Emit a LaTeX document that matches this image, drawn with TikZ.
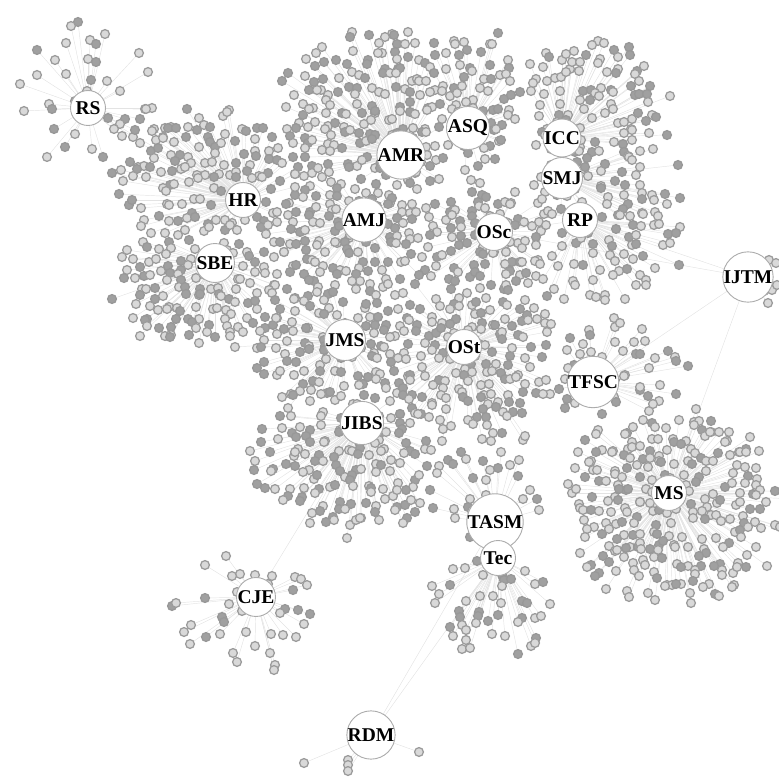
\documentclass[tikz,border=0pt]{standalone}
\usepackage{fontspec}
\setmainfont{Liberation Serif}
\pgfdeclarelayer{front}
\pgfsetlayers{main,front}
\definecolor{satlight}{HTML}{D9D9D9}
\definecolor{satlightb}{HTML}{9C9C9C}
\definecolor{satdark}{HTML}{A0A0A0}
\definecolor{satdarkb}{HTML}{989898}
\definecolor{edgec}{HTML}{E3E3E3}
\definecolor{hubb}{HTML}{ABABAB}
\tikzset{
  satl/.style={fill=satlight,draw=satlightb,line width=1.3pt},
  satd/.style={fill=satdark,draw=satdarkb,line width=1.3pt},
  edge/.style={draw=edgec,line width=0.45pt},
  hub/.style={circle,inner sep=0pt,minimum size=35pt,fill=white,draw=hubb,line width=0.9pt,
    font=\fontsize{19.5}{19.5}\selectfont\bfseries,text=black},
}
\newcount\xx \newcount\yy \newcount\dd \newcount\best \newcount\ax \newcount\ay
% \cl{hub}{cx}{cy}{Rx}{Ry}{density %}{dark %}
\def\cl#1#2#3#4#5#6#7{%
  \ax=\numexpr(\xx-#2)*500/#4\relax
  \ay=\numexpr(\yy-#3)*500/#5\relax
  \dd=\numexpr\ax*\ax/250+\ay*\ay/250\relax
  \ifnum\dd<\best\relax \best=\dd \def\besthub{#1}\def\bestdens{#6}\def\bestdark{#7}\fi}
\def\clusterlist{%
\cl{RS}{85}{100}{75}{70}{25}{30}%
\cl{HR}{210}{182}{95}{70}{74}{40}%
\cl{SBE}{205}{287}{90}{60}{74}{40}%
\cl{AMR}{375}{118}{92}{85}{80}{42}%
\cl{ASQ}{470}{98}{55}{68}{72}{38}%
\cl{ICC}{590}{105}{75}{70}{64}{32}%
\cl{SMJ}{610}{185}{75}{50}{64}{35}%
\cl{RP}{600}{250}{82}{55}{60}{35}%
\cl{AMJ}{345}{235}{85}{70}{82}{42}%
\cl{OSc}{490}{245}{70}{65}{78}{40}%
\cl{JMS}{320}{340}{85}{75}{78}{42}%
\cl{OSt}{470}{362}{90}{95}{74}{38}%
\cl{JIBS}{350}{460}{95}{70}{78}{45}%
\cl{TFSC}{615}{370}{75}{55}{38}{30}%
\cl{MS}{672}{505}{108}{95}{82}{25}%
\cl{TASM}{478}{485}{65}{50}{32}{35}%
\cl{Tec}{490}{605}{60}{55}{38}{35}%
\cl{CJE}{240}{610}{80}{60}{26}{15}%
}
\def\edgeact{\edef\tmp{\noexpand\draw[edge] (\besthub.center) -- (\px,\py);}\tmp}
\def\dotact{\ifnum\dk<\bestdark\relax
    \filldraw[satd] (\px,\py) circle[radius=4.4pt];
  \else
    \filldraw[satl] (\px,\py) circle[radius=4.4pt];
  \fi}
% satellites: jittered grid, each site belongs to the nearest cluster
\newcommand\sitepass[1]{%
\pgfmathsetseed{4242}%
\foreach \j in {0,...,82}{%
  \ifodd\j\relax\def\off{5}\else\def\off{0}\fi
  \foreach \i in {0,...,79}{%
    \pgfmathrandominteger{\jx}{-5}{5}%
    \pgfmathrandominteger{\jy}{-5}{5}%
    \xx=\numexpr\i*10+\off+\jx\relax
    \yy=\numexpr(\j*95)/10+\jy\relax
    \best=100000
    \clusterlist
    \pgfmathrandominteger{\fz}{700}{1300}%
    \ifnum\best<\fz\relax
      \pgfmathrandominteger{\rk}{0}{99}%
      \ifnum\rk<\bestdens\relax
        \pgfmathrandominteger{\dk}{0}{99}%
        \edef\px{\the\xx}\edef\py{\the\yy}%
        #1%
      \fi
    \fi
  }}}
\begin{document}
\begin{tikzpicture}[x=1pt,y=-1pt]
\useasboundingbox (0,0) rectangle (779,778);
\begin{pgfonlayer}{front}
\node[hub] (RS) at (88,108) {RS};
\node[hub] (HR) at (243,200) {HR};
\node[hub] (SBE) at (215,263) {SBE};
\node[hub] (AMR) at (401,155) {AMR};
\node[hub] (ASQ) at (468,128) {ASQ};
\node[hub] (ICC) at (562,138) {ICC};
\node[hub] (SMJ) at (562,178) {SMJ};
\node[hub] (AMJ) at (364,220) {AMJ};
\node[hub] (OSc) at (494,232) {OSc};
\node[hub] (RP) at (580,220) {RP};
\node[hub] (IJTM) at (748,277) {IJTM};
\node[hub] (JMS) at (345,340) {JMS};
\node[hub] (OSt) at (464,347) {OSt};
\node[hub] (TFSC) at (593,382) {TFSC};
\node[hub] (JIBS) at (362,423) {JIBS};
\node[hub] (MS) at (669,493) {MS};
\node[hub] (TASM) at (495,522) {TASM};
\node[hub] (Tec) at (498,558) {Tec};
\node[hub] (CJE) at (256,597) {CJE};
\node[hub] (RDM) at (371,735) {RDM};
\end{pgfonlayer}
\draw[edge] (RS) -- (HR);
\draw[edge] (CJE) -- (JIBS);
\draw[edge] (RDM) -- (Tec);
\draw[edge] (RDM) -- (TASM);
\draw[edge] (IJTM) -- (RP);
\draw[edge] (IJTM) -- (TFSC);
\draw[edge] (IJTM) -- (OSc);
\draw[edge] (IJTM) -- (MS);
\foreach \x/\y in {304/763,348/760,348/765,348/771,419/752}
  \draw[edge] (RDM.center) -- (\x,\y);
\foreach \x/\y in {758/262,769/260,776/263,753/290,764/291,772/290,777/285,768/303}
  \draw[edge] (IJTM.center) -- (\x,\y);
\sitepass\edgeact
\sitepass\dotact
\foreach \x/\y in {304/763,348/760,348/765,348/771,419/752}
  \filldraw[satl] (\x,\y) circle[radius=4.4pt];
\foreach \x/\y in {758/262,769/260,776/263,753/290,764/291,772/290,777/285,768/303}
  \filldraw[satl] (\x,\y) circle[radius=4.4pt];
\end{tikzpicture}
\end{document}
